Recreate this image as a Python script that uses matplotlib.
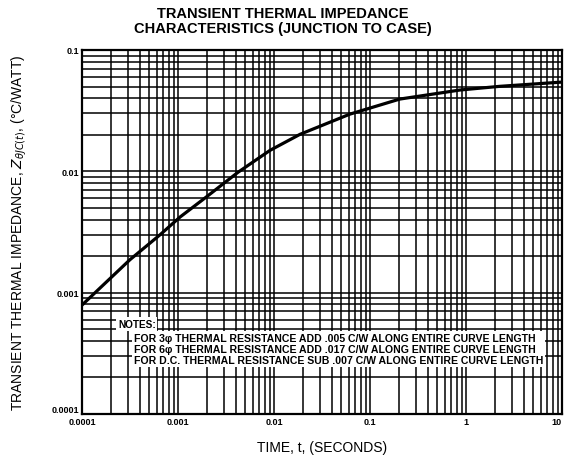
import numpy as np
from matplotlib import pyplot as plt
from matplotlib.ticker import LogLocator, FixedLocator, NullFormatter

# curve (time in s, impedance in C/W)
t = [1.0e-4, 3.16e-4, 6.5e-4, 1.05e-3, 2.0e-3, 4.2e-3, 9.1e-3, 0.0187, 0.0617, 0.204, 0.866, 2.26, 10.0]
z = [7.9e-4, 1.87e-3, 3.0e-3, 4.2e-3, 6.2e-3, 9.8e-3, 0.0149, 0.0202, 0.0296, 0.0394, 0.0468, 0.0502, 0.0544]

xticks = [1e-4, 1e-3, 1e-2, 1e-1, 1, 10]
xlabels = ['0.0001', '0.001', '0.01', '0.1', '1', '10']
yticks = [1e-4, 1e-3, 1e-2, 1e-1]
ylabels = ['0.0001', '0.001', '0.01', '0.1']

notes = ['FOR 3\u03c6 THERMAL RESISTANCE ADD .005 C/W ALONG ENTIRE CURVE LENGTH',
         'FOR 6\u03c6 THERMAL RESISTANCE ADD .017 C/W ALONG ENTIRE CURVE LENGTH',
         'FOR D.C. THERMAL RESISTANCE SUB .007 C/W ALONG ENTIRE CURVE LENGTH']

plt.rcParams['font.family'] = ['Liberation Sans', 'DejaVu Sans']

fig = plt.figure(figsize=(5.65, 4.64), dpi=100)
ax = fig.add_axes([82/565, 1 - 415/464, 480/565, 364/464])

ax.set_xscale('log')
ax.set_yscale('log')
ax.set_xlim(1e-4, 10)
ax.set_ylim(1e-4, 0.1)

ax.xaxis.set_major_locator(FixedLocator(xticks))
ax.yaxis.set_major_locator(FixedLocator(yticks))
ax.set_xticklabels(xlabels, fontsize=6.5, fontweight='bold')
ax.set_yticklabels(ylabels, fontsize=6.5, fontweight='bold')
ax.xaxis.set_minor_locator(LogLocator(base=10, subs=np.arange(2, 10), numticks=20))
ax.yaxis.set_minor_locator(LogLocator(base=10, subs=np.arange(2, 10), numticks=20))
ax.xaxis.set_minor_formatter(NullFormatter())
ax.yaxis.set_minor_formatter(NullFormatter())
ax.tick_params(which='both', length=0, pad=2)
ax.get_xticklabels()[-1].set_ha('right')
ax.get_yticklabels()[0].set_va('bottom')

ax.grid(which='both', color='black', linewidth=1.1)
for s in ax.spines.values():
    s.set_linewidth(1.6)

ax.plot(t, z, color='black', linewidth=2.3, zorder=3)

ax.text(0.075, 0.247, 'NOTES:', transform=ax.transAxes, fontsize=7.2, fontweight='bold',
        va='center', ha='left', zorder=4,
        bbox=dict(facecolor='white', edgecolor='none', pad=1.2))
ax.text(0.108, 0.178, '\n'.join(notes), transform=ax.transAxes, fontsize=7.6, fontweight='bold',
        va='center', ha='left', linespacing=1.15, zorder=4,
        bbox=dict(facecolor='white', edgecolor='none', pad=1.2))

ax.set_xlabel('TIME, t, (SECONDS)', fontsize=10, labelpad=10)
ax.set_ylabel(r'TRANSIENT THERMAL IMPEDANCE, $Z_{\theta JC(t)}$, (°C/WATT)', fontsize=10, labelpad=16)
fig.suptitle('TRANSIENT THERMAL IMPEDANCE\nCHARACTERISTICS (JUNCTION TO CASE)',
             x=0.5, y=0.985, fontsize=10.5, fontweight='bold', linespacing=1.05)

fig.savefig('out.png', dpi=100)
